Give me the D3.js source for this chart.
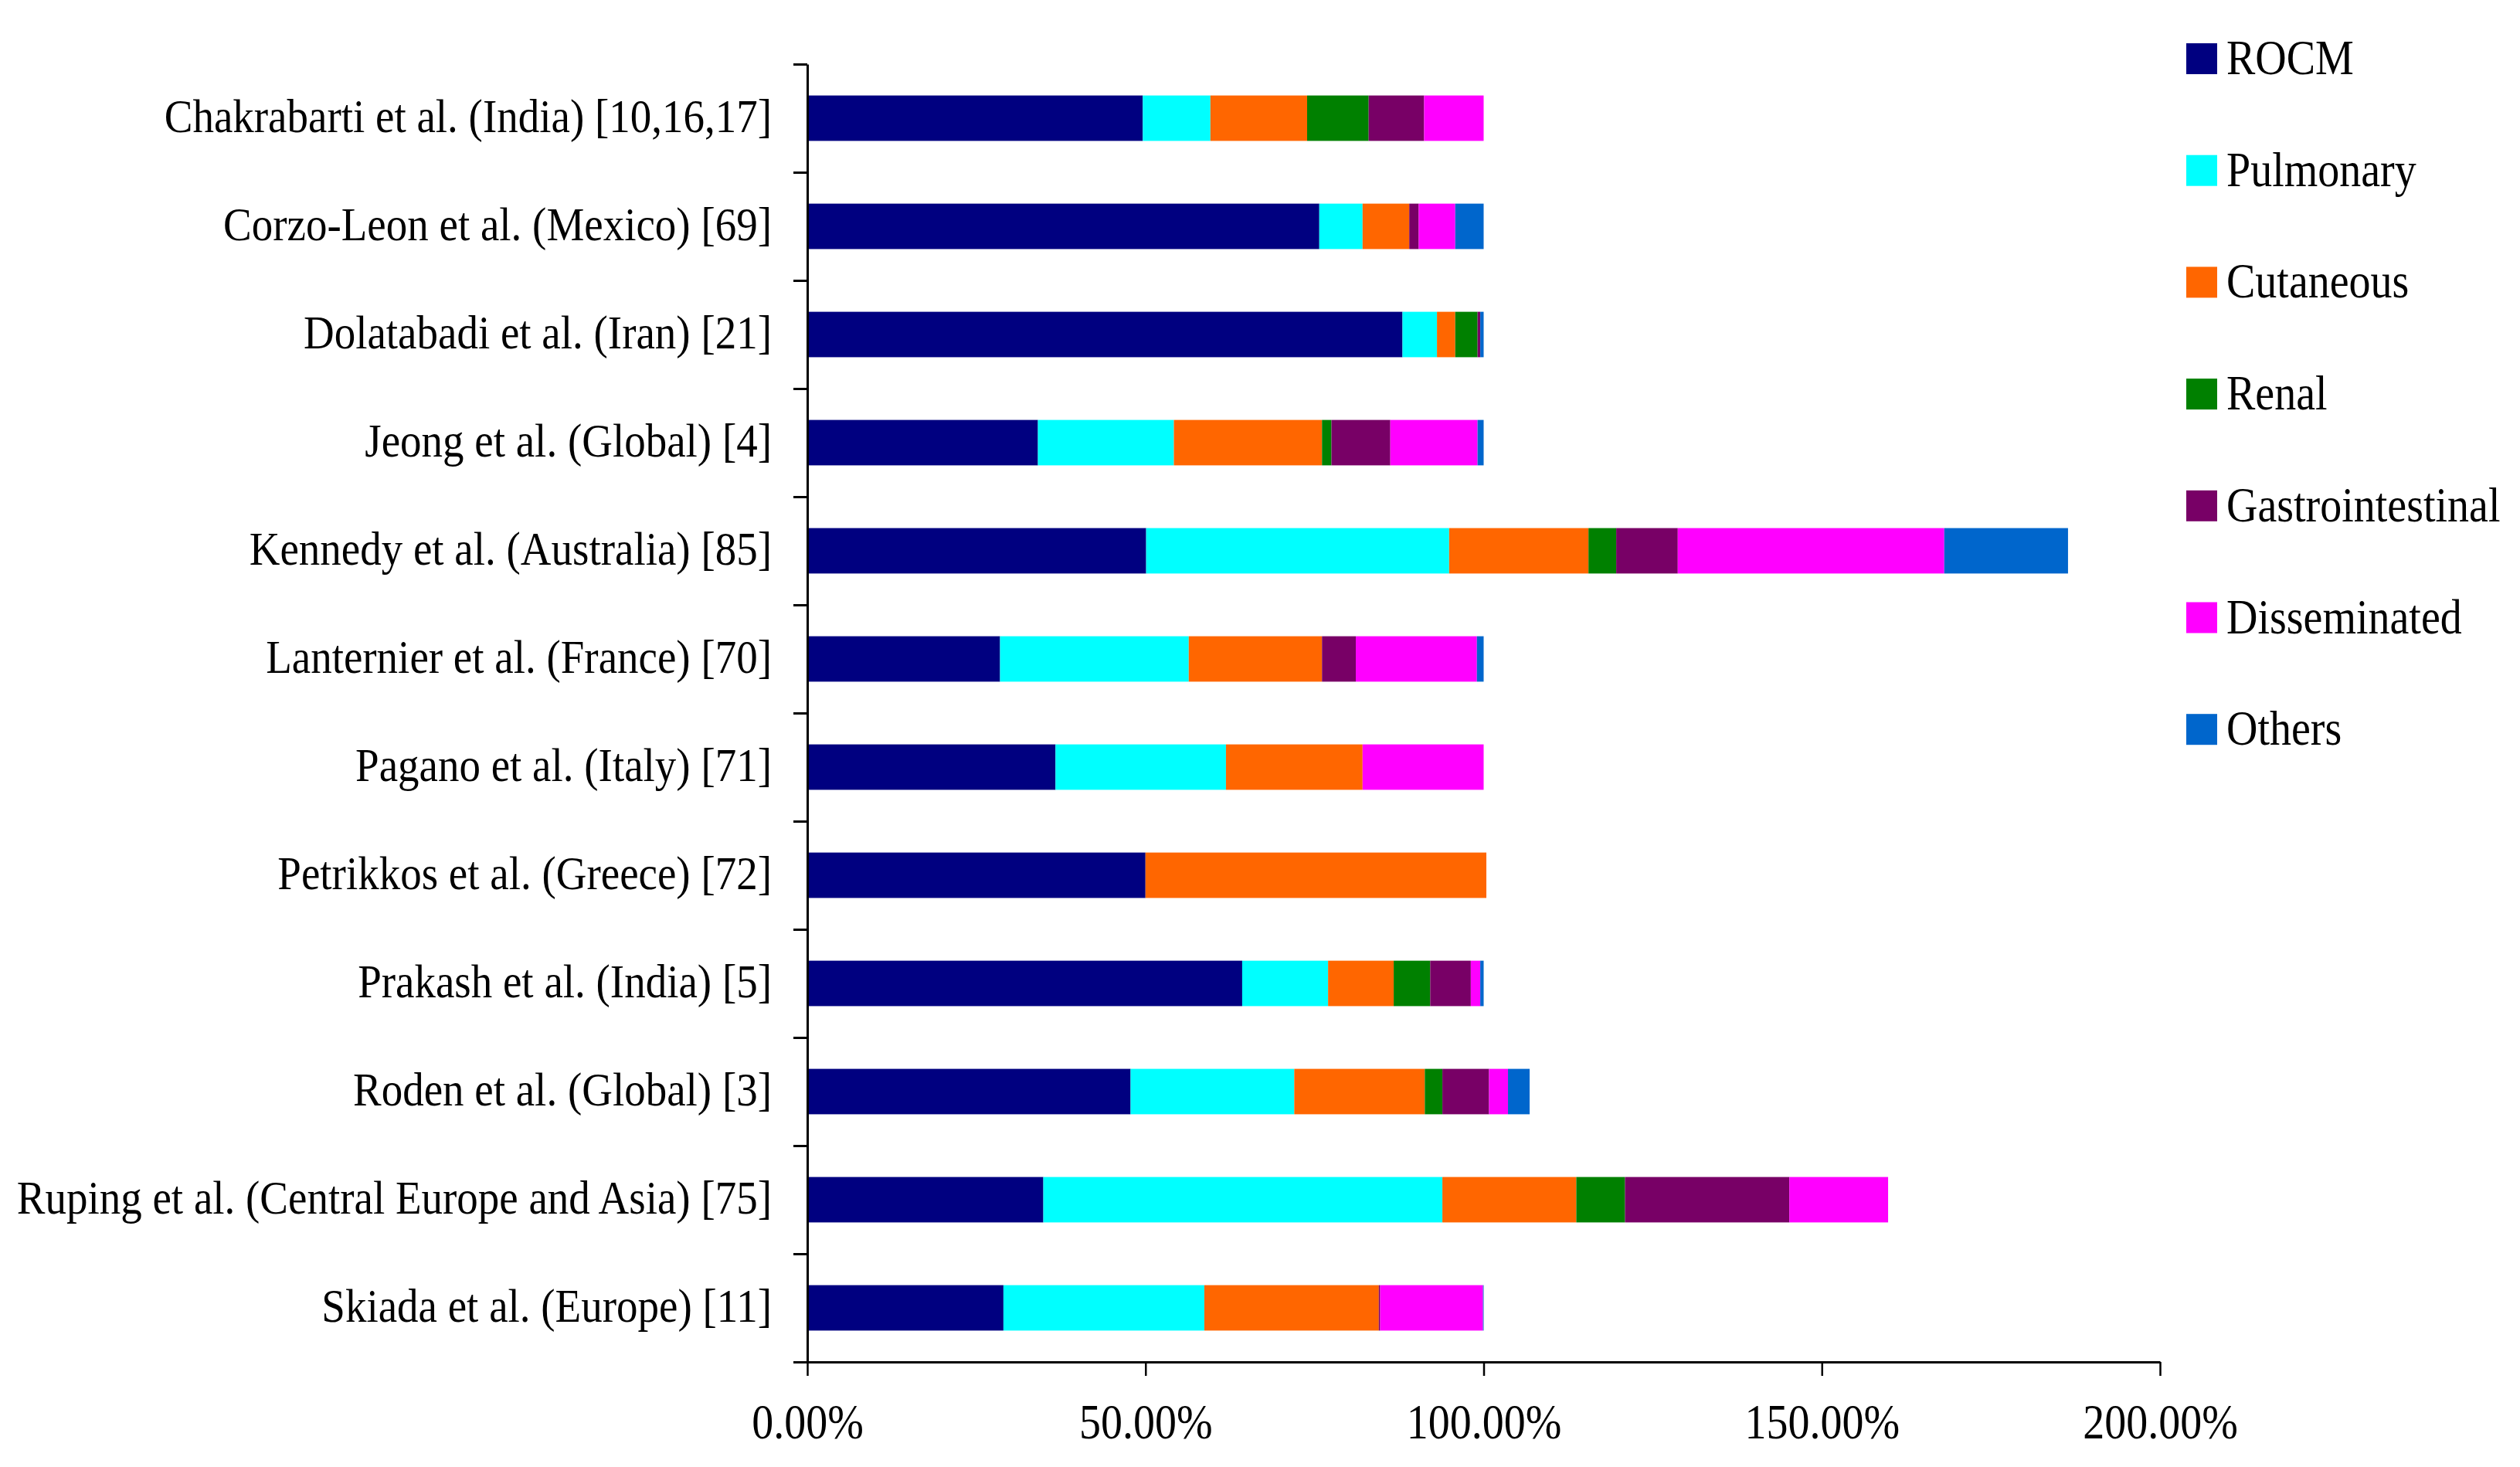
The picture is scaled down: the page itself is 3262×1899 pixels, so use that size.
<!DOCTYPE html>
<html>
<head>
<meta charset="utf-8">
<script src="https://cdnjs.cloudflare.com/ajax/libs/d3/7.8.5/d3.min.js"></script>
<style>
  body { margin: 0; background: #fff; }
  text { font-family: "Liberation Serif", "Times New Roman", serif; font-size: 56px; fill: #000; }
  .cat text { font-size: 55px; }
</style>
</head>
<body>
<div id="chart"></div>
<script>
// studies, top to bottom
var studies = [
  "Chakrabarti et al. (India) [10,16,17]",
  "Corzo-Leon et al. (Mexico) [69]",
  "Dolatabadi et al. (Iran) [21]",
  "Jeong et al. (Global) [4]",
  "Kennedy et al. (Australia) [85]",
  "Lanternier et al. (France) [70]",
  "Pagano et al. (Italy) [71]",
  "Petrikkos et al. (Greece) [72]",
  "Prakash et al. (India) [5]",
  "Roden et al. (Global) [3]",
  "Ruping et al. (Central Europe and Asia) [75]",
  "Skiada et al. (Europe) [11]"
]

var seriesNames = ["ROCM", "Pulmonary", "Cutaneous", "Renal", "Gastrointestinal", "Disseminated", "Others"]
var seriesColors = ["#000080", "#00ffff", "#ff6600", "#008000", "#780066", "#ff00ff", "#0066cc"]

// percentages per study (same order as studies)
var rocm             = [49.6, 75.7, 88.0, 34.1, 50.1, 28.5, 36.7, 50.0, 64.3, 47.8, 34.9, 29.0]
var pulmonary        = [10.0,  6.4,  5.1, 20.1, 44.8, 27.9, 25.2,  0.0, 12.7, 24.2, 59.0, 29.7]
var cutaneous        = [14.3,  6.9,  2.7, 21.9, 20.6, 19.7, 20.2, 50.4,  9.7, 19.3, 19.8, 25.8]
var renal            = [ 9.1,  0.0,  3.3,  1.4,  4.1,  0.0,  0.0,  0.0,  5.4,  2.6,  7.2,  0.0]
var gastrointestinal = [ 8.2,  1.4,  0.4,  8.7,  9.1,  5.0,  0.0,  0.0,  6.0,  6.9, 24.3,  0.2]
var disseminated     = [ 8.8,  5.4,  0.0, 12.9, 39.4, 17.9, 17.9,  0.0,  1.4,  2.8, 14.6, 15.2]
var others           = [ 0.0,  4.2,  0.5,  0.9, 18.3,  1.0,  0.0,  0.0,  0.5,  3.2,  0.0,  0.1]

var xTicks = [0, 0.5, 1, 1.5, 2]

var width = 3262, height = 1899
var plot = {left: 1045, right: 2796, top: 83, bottom: 1763}
var textStretch = 1.12 // the original font looks a bit taller than Times

// rows for d3.stack
var allSeries = [rocm, pulmonary, cutaneous, renal, gastrointestinal, disseminated, others]
var rows = studies.map(function(s, i){
  var r = {study: s}
  seriesNames.forEach(function(k, j){ r[k] = allSeries[j][i] / 100 })
  return r
})
var stacked = d3.stack().keys(seriesNames)(rows)

var svg = d3.select("#chart").append("svg")
  .attr("width", width)
  .attr("height", height)

var x = d3.scaleLinear().domain([0, 2]).range([plot.left, plot.right])
var y = d3.scaleBand().domain(studies).range([plot.top, plot.bottom])
  .paddingInner(0.58).paddingOuter(0.29)
var yEdge = d3.scaleLinear().domain([0, studies.length]).range([plot.top, plot.bottom])
var color = d3.scaleOrdinal().domain(seriesNames).range(seriesColors)

// bars
svg.append("g").selectAll("g")
  .data(stacked)
  .join("g")
    .attr("fill", function(d){ return color(d.key) })
  .selectAll("rect")
  .data(function(d){ return d })
  .join("rect")
    .attr("x", function(d){ return x(d[0]) })
    .attr("y", function(d){ return y(d.data.study) })
    .attr("width", function(d){ return x(d[1]) - x(d[0]) })
    .attr("height", y.bandwidth())

// y axis line with ticks between categories
var yAxis = svg.append("g")
  .attr("transform", "translate(" + plot.left + ",0)")
  .call(d3.axisLeft(yEdge).tickValues(d3.range(0, studies.length + 1)).tickSize(18).tickSizeOuter(0).tickFormat(""))
yAxis.select(".domain").attr("stroke-width", 3)
yAxis.selectAll(".tick line").attr("stroke-width", 3)

// category labels
var yLabels = svg.append("g")
  .attr("class", "cat")
  .attr("transform", "translate(" + plot.left + ",0)")
  .call(d3.axisLeft(y).tickSize(0).tickPadding(46))
yLabels.select(".domain").remove()
yLabels.selectAll(".tick text")
  .attr("font-size", null).attr("font-family", null)
  .attr("dy", "0.30em")
  .attr("transform", "scale(1," + textStretch + ")")

// x axis
var xAxis = svg.append("g")
  .attr("transform", "translate(0," + plot.bottom + ")")
  .call(d3.axisBottom(x).tickValues(xTicks).tickSize(18).tickSizeOuter(0).tickFormat(d3.format(".2%")))
xAxis.select(".domain").attr("stroke-width", 3)
xAxis.selectAll(".tick line").attr("stroke-width", 2.5)
xAxis.selectAll(".tick text")
  .attr("font-size", null).attr("font-family", null)
  .attr("y", 99 / textStretch)
  .attr("dy", 0)
  .attr("transform", "scale(1," + textStretch + ")")

// legend
var legend = svg.append("g").selectAll("g")
  .data(seriesNames)
  .join("g")
    .attr("transform", function(d, i){ return "translate(2830," + (56 + i * 144.7) + ")" })
legend.append("rect")
  .attr("width", 40)
  .attr("height", 40)
  .attr("fill", function(d){ return color(d) })
legend.append("text")
  .attr("transform", "translate(52,40) scale(1," + textStretch + ")")
  .text(function(d){ return d })
</script>
</body>
</html>
